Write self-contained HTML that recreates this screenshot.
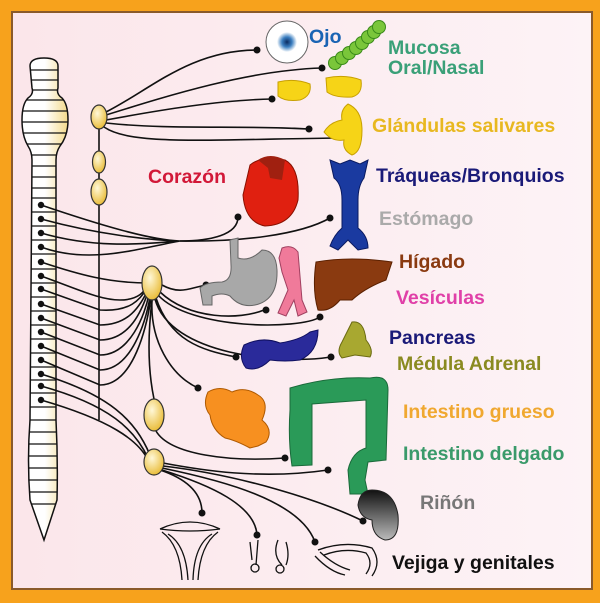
<!DOCTYPE html>
<html><head><meta charset="utf-8"><style>
html,body{margin:0;padding:0;width:600px;height:603px;overflow:hidden;background:#f7a21c}
svg{display:block}
text{font-family:"Liberation Sans",sans-serif;font-weight:bold;font-size:19.5px}
</style></head><body>
<svg width="600" height="603" viewBox="0 0 600 603" xmlns="http://www.w3.org/2000/svg">
<defs>
<linearGradient id="bg" x1="0" x2="1"><stop offset="0" stop-color="#fbe6ea"/><stop offset="1" stop-color="#fdf3f6"/></linearGradient>
<linearGradient id="sp" x1="0" x2="1"><stop offset="0" stop-color="#fff"/><stop offset=".5" stop-color="#fff"/><stop offset="1" stop-color="#f3d98a"/></linearGradient>
<radialGradient id="gg" cx=".4" cy=".35" r=".7"><stop offset="0" stop-color="#fff8d8"/><stop offset="1" stop-color="#e8b930"/></radialGradient>
<radialGradient id="eye" cx=".5" cy=".5" r=".5"><stop offset="0" stop-color="#0a2a60"/><stop offset=".5" stop-color="#3a7ec0"/><stop offset="1" stop-color="#fff"/></radialGradient>
<linearGradient id="kid" x1="0" y1="0" x2="0" y2="1"><stop offset="0" stop-color="#111"/><stop offset="1" stop-color="#bbb"/></linearGradient>
<clipPath id="spc"><path id="spath" d="M30,66 Q30,58 44,58 Q58,58 58,66 L58,88 Q56,94 62,98 Q68,104 68,120 Q68,136 60,146 Q56,152 56,160 L56,420 Q58,460 57,500 L44,540 L30,500 Q27,460 30,420 L32,160 Q32,152 28,146 Q22,136 22,120 Q22,104 28,98 Q34,94 32,88 Z"/></clipPath>
</defs>
<rect x="12" y="12" width="580" height="577" fill="url(#bg)" stroke="#8a5a2a" stroke-width="2"/>
<use href="#spath" fill="url(#sp)"/>
<g clip-path="url(#spc)" stroke="#111" stroke-width="1.2">
<path d="M20,70H70M20,80H70M20,90H70M20,100H70M20,111H70M20,122H70M20,133H70M20,144H70M20,155H70M20,166H70M20,177H70M20,188H70M20,198H70M20,212H70M20,226H70M20,240H70M20,254H70M20,269H70M20,283H70M20,297H70M20,311H70M20,325H70M20,339H70M20,353H70M20,367H70M20,380H70M20,393H70M20,407H70M20,420H70M20,432H70M20,444H70M20,456H70M20,468H70M20,480H70M20,492H70M20,504H70"/>
</g>
<use href="#spath" fill="none" stroke="#111" stroke-width="1.5"/>
<g fill="none" stroke="#111" stroke-width="1.6">
<path d="M99,117V420"/>
<path d="M106,112 C150,90 190,50 257,50"/>
<path d="M106,115 C170,95 250,70 322,68"/>
<path d="M106,120 C160,110 220,100 272,99"/>
<path d="M106,123 C170,130 240,125 309,129"/>
<path d="M104,127 C130,145 200,140 335,138"/>
<path d="M41,205 C100,225 150,240 180,241 M41,219 C100,235 150,240 180,241 M41,233 C100,250 150,243 180,241 M41,247 C90,265 140,248 180,241"/>
<path d="M180,241 C210,241 238,235 238,217"/>
<path d="M180,241 C240,242 300,235 330,218"/>
<path d="M41,262 C80,275 110,283 148,283 M41,276 C80,290 100,300 120,300 C140,300 145,290 148,285"/>
<path d="M41,289 L100,310 C130,312 140,300 148,287 M41,304 L100,325 C130,325 140,305 148,290 M41,318 L100,340 C130,340 142,310 148,292 M41,332 L100,355 C130,355 145,315 149,294 M41,346 L100,370 C132,370 146,320 150,297 M41,360 L100,385 C134,385 147,325 151,298"/>
<path d="M41,374 C110,395 135,420 150,455 M41,386 C110,405 135,430 148,458 M41,400 C110,420 138,440 148,460"/>
<path d="M162,285 C180,295 190,288 206,285"/>
<path d="M160,292 C190,320 240,320 264,310"/>
<path d="M158,295 C190,330 300,330 320,317"/>
<path d="M156,298 C170,340 200,350 236,357"/>
<path d="M155,299 C170,355 280,365 331,357"/>
<path d="M152,300 C150,340 170,375 198,388"/>
<path d="M152,300 C146,350 150,380 154,399"/>
<path d="M156,431 C170,455 230,462 285,458"/>
<path d="M163,463 C200,470 260,480 328,470"/>
<path d="M163,466 C240,475 320,500 363,521"/>
<path d="M160,470 C190,480 202,495 202,513"/>
<path d="M162,470 C210,485 255,505 257,535"/>
<path d="M162,468 C220,480 300,500 315,542"/>
</g>
<g fill="#111">
<circle cx="257" cy="50" r="3.5"/><circle cx="322" cy="68" r="3.5"/><circle cx="272" cy="99" r="3.5"/><circle cx="309" cy="129" r="3.5"/><circle cx="238" cy="217" r="3.5"/><circle cx="330" cy="218" r="3.5"/>
<circle cx="206" cy="285" r="3.5"/><circle cx="266" cy="310" r="3.5"/><circle cx="320" cy="317" r="3.5"/><circle cx="236" cy="357" r="3.5"/><circle cx="331" cy="357" r="3.5"/><circle cx="198" cy="388" r="3.5"/>
<circle cx="285" cy="458" r="3.5"/><circle cx="328" cy="470" r="3.5"/><circle cx="363" cy="521" r="3.5"/><circle cx="202" cy="513" r="3.5"/><circle cx="257" cy="535" r="3.5"/><circle cx="315" cy="542" r="3.5"/>
<circle cx="41" cy="205" r="3.2"/><circle cx="41" cy="219" r="3.2"/><circle cx="41" cy="233" r="3.2"/><circle cx="41" cy="247" r="3.2"/><circle cx="41" cy="262" r="3.2"/><circle cx="41" cy="276" r="3.2"/><circle cx="41" cy="289" r="3.2"/><circle cx="41" cy="304" r="3.2"/><circle cx="41" cy="318" r="3.2"/><circle cx="41" cy="332" r="3.2"/><circle cx="41" cy="346" r="3.2"/><circle cx="41" cy="360" r="3.2"/><circle cx="41" cy="374" r="3.2"/><circle cx="41" cy="386" r="3.2"/><circle cx="41" cy="400" r="3.2"/>
</g>
<g fill="url(#gg)" stroke="#333" stroke-width="1.2">
<ellipse cx="99" cy="117" rx="8" ry="12"/><ellipse cx="99" cy="162" rx="6.5" ry="11"/><ellipse cx="99" cy="192" rx="8" ry="13"/>
<ellipse cx="152" cy="283" rx="10" ry="17"/><ellipse cx="154" cy="415" rx="10" ry="16"/><ellipse cx="154" cy="462" rx="10" ry="13"/>
</g>
<circle cx="287" cy="42" r="21" fill="#fff" stroke="#666"/><circle cx="287" cy="42" r="10" fill="url(#eye)"/>
<g fill="#7ac63a" stroke="#3a8a1a"><circle cx="335" cy="63" r="6.5"/><circle cx="342" cy="58" r="6.5"/><circle cx="349" cy="53" r="6.5"/><circle cx="356" cy="48" r="6.5"/><circle cx="362" cy="43" r="6.5"/><circle cx="368" cy="37" r="6.5"/><circle cx="374" cy="32" r="6.5"/><circle cx="379" cy="27" r="6.5"/></g>
<g fill="#f6d417" stroke="#c8a000">
<path d="M278,82 Q295,78 310,84 Q312,96 300,100 Q285,102 278,96 Z"/>
<path d="M326,78 Q345,74 361,80 Q363,94 352,97 Q335,98 327,92 Z"/>
<path d="M348,104 Q362,110 362,130 Q362,152 352,155 Q342,150 344,140 Q332,142 324,132 Q330,122 342,120 Q340,110 348,104 Z"/>
</g>
<path d="M250,165 Q262,155 285,160 Q300,168 298,200 Q292,225 265,226 Q245,222 243,195 Z" fill="#e02010" stroke="#8a1000"/>
<path d="M258,160 Q270,152 285,160 L282,180 L270,178 L268,168 Z" fill="#a02010"/>
<path d="M330,160 L340,164 L350,160 L360,164 L368,160 L364,178 Q358,186 358,200 L358,228 Q368,236 368,248 L358,250 L348,240 L338,250 L330,246 Q334,235 342,228 L342,200 Q342,184 334,178 Z" fill="#1a3aa0" stroke="#0a1a60"/>
<path d="M230,240 L238,238 L238,258 Q250,262 262,250 Q276,250 277,270 Q278,300 255,305 Q240,308 230,296 Q222,292 212,296 L212,305 L203,305 L200,288 Q206,282 222,282 Q232,280 231,265 Z" fill="#a8a8a8" stroke="#666"/>
<path d="M282,248 Q292,244 298,252 L302,300 L307,312 L298,316 L294,300 L286,316 L278,313 L288,290 L282,272 L279,258 Z" fill="#f07a9a" stroke="#a04060"/>
<path d="M316,262 Q350,256 392,262 L386,280 Q365,288 352,300 L340,300 Q330,312 318,310 Q312,290 316,262 Z" fill="#8a3a10" stroke="#5a2000"/>
<path d="M244,345 Q262,336 280,343 Q300,340 310,332 L318,330 Q318,352 300,360 Q285,362 270,360 Q258,372 246,368 Q238,358 244,345 Z" fill="#2a2a9a" stroke="#101060"/>
<path d="M352,322 Q364,320 366,340 Q374,350 370,357 L355,355 L342,358 Q336,352 342,342 Z" fill="#a8a830" stroke="#6a6a10"/>
<path d="M208,392 Q220,385 232,392 Q245,386 258,395 Q270,402 262,420 Q274,430 266,442 L258,446 L250,448 Q235,440 225,438 Q212,430 210,415 Q202,405 208,392 Z" fill="#f79020" stroke="#b05a00"/>
<path d="M290,388 Q330,376 370,378 Q388,374 388,390 L386,460 L368,462 L365,480 L368,494 L350,494 L348,470 Q352,452 366,448 L366,400 Q340,402 312,404 L312,465 L292,466 Q288,440 290,410 Z" fill="#2a9a58" stroke="#1a6a3a"/>
<path d="M372,490 Q394,490 398,515 Q400,540 385,540 Q372,536 372,520 Q360,518 358,505 Q360,490 372,490 Z" fill="url(#kid)" stroke="#222"/>
<g fill="none" stroke="#111" stroke-width="1.3">
<path d="M160,529 Q190,515 220,529 M160,529 Q190,533 220,529 M162,532 Q180,545 182,580 M218,532 Q200,545 198,580 M168,534 Q186,545 188,580 M212,534 Q194,545 193,580"/>
<path d="M250,542 L252,560 M258,540 L256,565 M278,540 Q272,555 282,565 M286,542 Q290,555 286,565"/>
<circle cx="255" cy="568" r="4"/><circle cx="280" cy="569" r="4"/>
<path d="M318,550 Q345,540 372,548 Q382,562 372,576 M324,555 Q345,547 366,553 Q374,563 366,574 M315,556 Q330,572 345,575 M320,552 Q335,566 350,570"/>
</g>
<text x="309" y="43" fill="#1a64b4">Ojo</text>
<text x="388" y="54" fill="#3aa078">Mucosa</text>
<text x="388" y="74" fill="#3aa078">Oral/Nasal</text>
<text x="372" y="132" fill="#e8b820">Glándulas salivares</text>
<text x="148" y="183" fill="#d21838">Corazón</text>
<text x="376" y="182" fill="#1a1a78">Tráqueas/Bronquios</text>
<text x="379" y="225" fill="#aaaaaa">Estómago</text>
<text x="399" y="268" fill="#8a3a10">Hígado</text>
<text x="396" y="304" fill="#e040a8">Vesículas</text>
<text x="389" y="344" fill="#1a1a78">Pancreas</text>
<text x="397" y="370" fill="#8a8a20">Médula Adrenal</text>
<text x="403" y="418" fill="#f0a830">Intestino grueso</text>
<text x="403" y="460" fill="#3a9a6a">Intestino delgado</text>
<text x="420" y="509" fill="#777">Riñón</text>
<text x="392" y="569" fill="#111">Vejiga y genitales</text>
</svg>
</body></html>
